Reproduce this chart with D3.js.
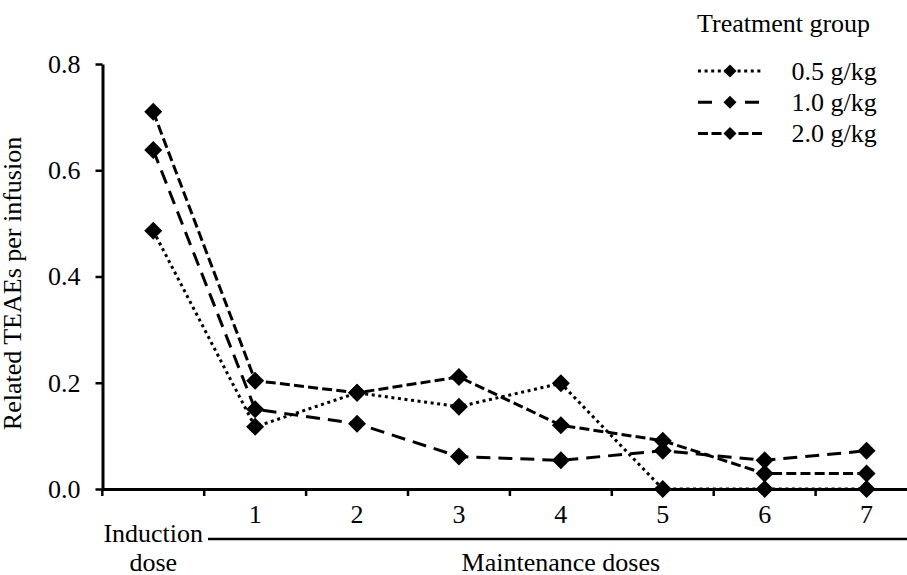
<!DOCTYPE html>
<html>
<head>
<meta charset="utf-8">
<script src="https://cdn.jsdelivr.net/npm/d3@7"></script>
<style>
  html, body { margin: 0; padding: 0; background: #fff; }
  svg { display: block; }
  text { font-family: "Liberation Serif", "Times New Roman", serif; fill: #000; }
</style>
</head>
<body>
<svg id="chart" width="907" height="575"></svg>
<script>
// ---- Data ----
const categories = ["Induction dose", "1", "2", "3", "4", "5", "6", "7"];
const seriesNames = ["0.5 g/kg", "1.0 g/kg", "2.0 g/kg"];
const values05 = [0.486, 0.117, 0.181, 0.155, 0.199, 0.0, 0.0, 0.0];
const values10 = [0.638, 0.150, 0.123, 0.061, 0.054, 0.072, 0.054, 0.072];
const values20 = [0.710, 0.204, 0.181, 0.211, 0.120, 0.091, 0.029, 0.029];
const yTicks = [0, 0.2, 0.4, 0.6, 0.8];
const legendTitle = "Treatment group";
const yTitle = "Related TEAEs per infusion";
const xGroupTitle = "Maintenance doses";

// ---- Styles (not data) ----
const dashes = ["3,3.6", "14,8", "10,4.2"];
const legendDashes = ["3,3.6", "14,33,14", "10,3.5"];

const svg = d3.select("#chart");
const FS = 26;

const x = d3.scaleBand().domain(categories).range([102.3, 917.5]).paddingInner(0).paddingOuter(0);
const y = d3.scaleLinear().domain([0, 0.8]).range([489, 64]);
const cx = c => x(c) + x.bandwidth() / 2;

const diamond = {
  draw(ctx, size) {
    const r = Math.sqrt(size / 2);
    ctx.moveTo(0, -r); ctx.lineTo(r, 0); ctx.lineTo(0, r); ctx.lineTo(-r, 0); ctx.closePath();
  }
};

// ---- Y axis ----
const yAxis = d3.axisLeft(y).tickValues(yTicks).tickFormat(d3.format(".1f"))
  .tickSize(7).tickSizeOuter(0).tickPadding(15);
const gy = svg.append("g").attr("transform", "translate(102.5,0)").call(yAxis);
gy.select(".domain").attr("stroke", "#000").attr("stroke-width", 3);
gy.selectAll(".tick line").attr("stroke", "#000").attr("stroke-width", 2.5);
gy.selectAll(".tick text").attr("font-size", FS).attr("font-family", "Liberation Serif, Times New Roman, serif").attr("fill", "#000");

// ---- X axis ----
const xAxis = d3.axisBottom(x).tickSize(0).tickSizeOuter(0).tickFormat(() => "");
const gx = svg.append("g").attr("transform", `translate(0,${y(0)})`).call(xAxis);
gx.select(".domain").attr("stroke", "#000").attr("stroke-width", 3);
// boundary tick marks
const bounds = categories.map(c => x(c));
gx.selectAll("line.bnd").data(bounds).join("line").attr("class", "bnd")
  .attr("x1", d => d).attr("x2", d => d).attr("y1", 0).attr("y2", 7)
  .attr("stroke", "#000").attr("stroke-width", 2.5);
// numbered labels
gx.selectAll("text.num").data(categories.slice(1)).join("text").attr("class", "num")
  .attr("x", d => cx(d)).attr("y", 523 - y(0)).attr("text-anchor", "middle")
  .attr("font-size", FS).text(d => d);
// Induction dose label (two lines)
const indWords = categories[0].split(" ");
gx.append("text").attr("x", cx(categories[0])).attr("y", 542 - y(0)).attr("text-anchor", "middle")
  .attr("font-size", FS).text(indWords[0]);
gx.append("text").attr("x", cx(categories[0])).attr("y", 571 - y(0)).attr("text-anchor", "middle")
  .attr("font-size", FS).text(indWords[1]);

// Maintenance bracket line + title
svg.append("line").attr("x1", 208).attr("x2", 907).attr("y1", 539).attr("y2", 539)
  .attr("stroke", "#000").attr("stroke-width", 2.5);
svg.append("text").attr("x", cx("4")).attr("y", 571).attr("text-anchor", "middle")
  .attr("font-size", FS).text(xGroupTitle);

// Y title
svg.append("text").attr("transform", "translate(20.5,283.5) rotate(-90)")
  .attr("text-anchor", "middle").attr("font-size", FS).text(yTitle);

// ---- Series ----
const allSeries = [values05, values10, values20];
const line = d3.line().x((d, i) => cx(categories[i])).y(d => y(d));
allSeries.forEach((vals, k) => {
  svg.append("path").datum(vals).attr("d", line).attr("fill", "none")
    .attr("stroke", "#000").attr("stroke-width", 3).attr("stroke-dasharray", dashes[k]);
});
allSeries.forEach((vals) => {
  svg.selectAll(null).data(vals).join("path")
    .attr("transform", (d, i) => `translate(${cx(categories[i])},${y(d)})`)
    .attr("d", d3.symbol().type(diamond).size(162)).attr("fill", "#000");
});

// ---- Legend ----
svg.append("text").attr("x", 697).attr("y", 31.5).attr("font-size", FS).text(legendTitle);
const lg = svg.append("g");
seriesNames.forEach((name, k) => {
  const yy = 71 + k * 31.2;
  lg.append("line").attr("x1", 698).attr("x2", 762).attr("y1", yy).attr("y2", yy)
    .attr("stroke", "#000").attr("stroke-width", 3).attr("stroke-dasharray", legendDashes[k]);
  lg.append("path").attr("transform", `translate(730,${yy})`)
    .attr("d", d3.symbol().type(diamond).size(84)).attr("fill", "#000");
  lg.append("text").attr("x", 791.5).attr("y", yy + 9).attr("font-size", FS).text(name);
});
</script>
</body>
</html>
